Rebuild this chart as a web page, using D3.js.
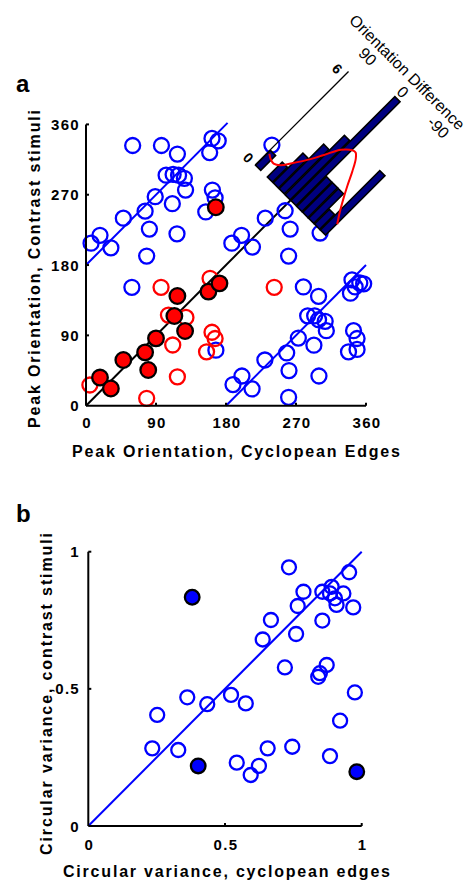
<!DOCTYPE html>
<html>
<head>
<meta charset="utf-8">
<script src="https://cdn.jsdelivr.net/npm/d3@7"></script>
<style>
  body { margin: 0; background: #fff; }
  svg { display: block; }
  text { font-family: "Liberation Sans", Arial, Helvetica, sans-serif; }
</style>
</head>
<body>
<svg id="chart" width="471" height="882"></svg>
<script>
// ---------- Panel a: peak orientation (deg) ----------
const orientTicks = [0, 90, 180, 270, 360];

// cells plotted as open blue circles (x = cyclopean edges, y = contrast stimuli)
const blueOpenA = [
  [60,333],[97,333],[117.5,322],[162,342],[170,339],[159,324],
  [103,295],[112,296],[119,295],[126.5,291],[128,276],
  [89,267.5],[111,258.5],[162.5,276],[166,266],[154,248],
  [48,240],[76,249],[81.5,226],[117,220],[18,218],[6.5,208],[32,202],[78,191.5],
  [187.5,208],[200,218],[214,203],[260.5,191.5],[230.5,240],[256,249.5],[262.5,226],[301,221],[239,333.5],
  [59,151.5],[167,71],
  [279.5,152],[299,140],[342,161],[352,157],[357,156],[346,152],[340,144],
  [285,115],[294,115],[299,110],[307.5,108],[309,96],[273,86.5],[293,77.5],
  [344,96],[348.5,86],[337.5,69],[348.5,72],[258,67.5],[230,58.5],[261,45],
  [299.5,38],[200.5,38],[189,27],[213.5,21.5],[260.5,10.7]
];
const redOpenA = [
  [5,26.5],[78,9.5],[96.5,151.5],[159.5,163],[106,116],[128.5,113],
  [111.5,77.7],[117.5,37],[162,94],[166,86],[155,69],[242,151.5]
];
const redFilledA = [
  [18,36],[32,22],[48,58.5],[76,68.3],[80,45.7],[90,86.2],
  [113.6,114.8],[127.4,95.6],[117.5,140.4],[157.4,146],[171.6,156.6],[166.9,254]
];

// orientation-difference histogram (bins of 15 deg, from +90 down to -90)
const diffBins = [82.5, 67.5, 52.5, 37.5, 22.5, 7.5, -7.5, -22.5, -37.5, -52.5, -67.5, -82.5];
const diffCounts = [1, 0, 1, 2, 3, 4, 7, 2, 2, 2, 1, 4];
const diffTicks = [90, 0, -90];
const countTicks = [0, 6];
// fitted density, in count units
const fitDiff = [86, 78, 68, 57, 45, 30, 15, 0, -15, -22, -30, -42, -54, -66, -78, -90];
const fitCount = [0.85, 0.72, 0.66, 0.84, 1.3, 1.92, 2.65, 3.4, 3.76, 3.8, 3.6, 3.05, 2.4, 1.8, 1.25, 0.76];

// ---------- Panel b: circular variance ----------
const cvTicks = [0, 0.5, 1];
const cvLabels = ["0", "0.5", "1"];
const cvOpen = [
  [0.734,0.943],[0.954,0.925],[0.787,0.854],[0.856,0.854],[0.890,0.872],[0.884,0.848],
  [0.933,0.848],[0.902,0.830],[0.908,0.806],[0.969,0.797],[0.766,0.802],[0.856,0.749],
  [0.668,0.751],[0.760,0.700],[0.638,0.680],[0.719,0.578],[0.872,0.587],[0.847,0.557],
  [0.841,0.544],[0.975,0.487],[0.362,0.469],[0.435,0.444],[0.522,0.478],[0.576,0.447],
  [0.252,0.405],[0.921,0.384],[0.234,0.283],[0.329,0.277],[0.656,0.283],[0.746,0.289],
  [0.543,0.231],[0.624,0.219],[0.594,0.186],[0.884,0.255]
];
const cvFilled = [[0.380,0.834],[0.402,0.219],[0.982,0.198]];

const BLUE = "#0000ff", RED = "#ff0000", NAVY = "#000080";

const svg = d3.select("#chart");

// ===== Panel a =====
const xA = d3.scaleLinear().domain([0, 360]).range([86, 366]);
const yA = d3.scaleLinear().domain([0, 360]).range([405.7, 124.4]);
const gA = svg.append("g");

// reference lines: identity and the two wrapped (+/-180) diagonals
const histAnchor = 263;
gA.append("line")
  .attr("x1", xA(0)).attr("y1", yA(0)).attr("x2", xA(histAnchor)).attr("y2", yA(histAnchor))
  .attr("stroke", "#000").attr("stroke-width", 2);
[[0, 180, 182, 362], [180, 0, 360, 180]].forEach(([a, b, c, d]) => {
  gA.append("line")
    .attr("x1", xA(a)).attr("y1", yA(b)).attr("x2", xA(c)).attr("y2", yA(d))
    .attr("stroke", BLUE).attr("stroke-width", 2);
});

gA.selectAll("circle.bo").data(blueOpenA).join("circle")
  .attr("cx", d => xA(d[0])).attr("cy", d => yA(d[1])).attr("r", 7.5)
  .attr("fill", "none").attr("stroke", BLUE).attr("stroke-width", 2.3);
gA.selectAll("circle.ro").data(redOpenA).join("circle")
  .attr("cx", d => xA(d[0])).attr("cy", d => yA(d[1])).attr("r", 7.5)
  .attr("fill", "none").attr("stroke", RED).attr("stroke-width", 2.3);
gA.selectAll("circle.rf").data(redFilledA).join("circle")
  .attr("cx", d => xA(d[0])).attr("cy", d => yA(d[1])).attr("r", 7.8)
  .attr("fill", RED).attr("stroke", "#000").attr("stroke-width", 2.3);

// axes (ticks point inward)
const axA = svg.append("g");
axA.append("line").attr("x1", xA(0)).attr("y1", yA(0)).attr("x2", xA(0)).attr("y2", yA(360))
  .attr("stroke", "#000").attr("stroke-width", 2);
axA.append("line").attr("x1", xA(0)).attr("y1", yA(0)).attr("x2", xA(360)).attr("y2", yA(0))
  .attr("stroke", "#000").attr("stroke-width", 2);
orientTicks.slice(1).forEach(t => {
  axA.append("line").attr("x1", xA(0)).attr("x2", xA(0) + 3).attr("y1", yA(t)).attr("y2", yA(t))
    .attr("stroke", "#000").attr("stroke-width", 2);
  axA.append("line").attr("x1", xA(t)).attr("x2", xA(t)).attr("y1", yA(0)).attr("y2", yA(0) - 3)
    .attr("stroke", "#000").attr("stroke-width", 2);
});
const tickFont = g => g.attr("font-size", 15).attr("font-weight", "bold").attr("letter-spacing", 1.3).attr("fill", "#000");
orientTicks.forEach(t => {
  axA.append("text").attr("x", 80).attr("y", yA(t) + 5.5).attr("text-anchor", "end").text(t).call(tickFont);
  axA.append("text").attr("x", xA(t) + 1).attr("y", yA(0) + 22.5).attr("text-anchor", "middle").text(t).call(tickFont);
});
const titleFont = g => g.attr("font-size", 16).attr("font-weight", "bold").attr("fill", "#000").attr("lengthAdjust", "spacing");
axA.append("text").attr("transform", "translate(40,269) rotate(-90)").attr("text-anchor", "middle")
  .attr("textLength", 318).text("Peak Orientation, Contrast stimuli").call(titleFont);
axA.append("text").attr("x", 236).attr("y", 457).attr("text-anchor", "middle")
  .attr("textLength", 328).text("Peak Orientation, Cyclopean Edges").call(titleFont);
svg.append("text").attr("x", 16).attr("y", 92).attr("font-size", 24).attr("font-weight", "bold").text("a");

// ===== Inset histogram, drawn along the identity diagonal =====
const cx = xA(histAnchor), cy = yA(histAnchor);
const hist = svg.append("g").attr("transform", `translate(${cx},${cy}) rotate(-45)`);
const cScale = d3.scaleLinear().domain([0, 6]).range([0, 126]);
const dScale = d3.scaleLinear().domain([90, -90]).range([-50, 50]);
const band = d3.scaleBand().domain(diffBins).range([-50, 50]).paddingInner(0.12).paddingOuter(0.06);

hist.append("line").attr("x1", 0).attr("x2", 132).attr("y1", -50).attr("y2", -50)
  .attr("stroke", "#000").attr("stroke-width", 1.3);
hist.selectAll("rect.bar").data(diffBins.map((b, i) => [b, diffCounts[i]]).filter(d => d[1] > 0)).join("rect")
  .attr("x", 0).attr("y", d => band(d[0])).attr("width", d => cScale(d[1])).attr("height", band.bandwidth())
  .attr("fill", NAVY).attr("stroke", "#000").attr("stroke-width", 1.6);
const fitLine = d3.line().x(d => cScale(d[1])).y(d => dScale(d[0])).curve(d3.curveCatmullRom);
hist.append("path").datum(fitDiff.map((v, i) => [v, fitCount[i]])).attr("d", fitLine)
  .attr("fill", "none").attr("stroke", RED).attr("stroke-width", 2);
countTicks.forEach(t => {
  hist.append("text").attr("transform", `translate(${cScale(t)},-60) rotate(90)`)
    .attr("text-anchor", "middle").attr("dy", "0.35em")
    .attr("font-size", 14).attr("font-weight", "bold").text(t);
});
diffTicks.forEach(t => {
  hist.append("text").attr("transform", `translate(156,${dScale(t) + 3}) rotate(90)`)
    .attr("text-anchor", "middle").attr("dy", "0.35em")
    .attr("font-size", 16).text(t);
});
hist.append("text").attr("transform", `translate(173,-8) rotate(90)`)
  .attr("text-anchor", "middle").attr("dy", "0.35em").attr("font-size", 16)
  .text("Orientation Difference");

// ===== Panel b =====
const xB = d3.scaleLinear().domain([0, 1]).range([88.3, 361.7]);
const yB = d3.scaleLinear().domain([0, 1]).range([826, 551.7]);
const gB = svg.append("g");
gB.append("line").attr("x1", xB(0)).attr("y1", yB(0)).attr("x2", xB(1)).attr("y2", yB(1))
  .attr("stroke", BLUE).attr("stroke-width", 2);
gB.selectAll("circle.o").data(cvOpen).join("circle")
  .attr("cx", d => xB(d[0])).attr("cy", d => yB(d[1])).attr("r", 7)
  .attr("fill", "none").attr("stroke", BLUE).attr("stroke-width", 2.3);
gB.selectAll("circle.f").data(cvFilled).join("circle")
  .attr("cx", d => xB(d[0])).attr("cy", d => yB(d[1])).attr("r", 7.3)
  .attr("fill", BLUE).attr("stroke", "#000").attr("stroke-width", 2.3);

const axB = svg.append("g");
axB.append("line").attr("x1", xB(0)).attr("y1", yB(0)).attr("x2", xB(0)).attr("y2", yB(1))
  .attr("stroke", "#000").attr("stroke-width", 2);
axB.append("line").attr("x1", xB(0)).attr("y1", yB(0)).attr("x2", xB(1)).attr("y2", yB(0))
  .attr("stroke", "#000").attr("stroke-width", 2);
cvTicks.slice(1).forEach(t => {
  axB.append("line").attr("x1", xB(0)).attr("x2", xB(0) + 3).attr("y1", yB(t)).attr("y2", yB(t))
    .attr("stroke", "#000").attr("stroke-width", 2);
  axB.append("line").attr("x1", xB(t)).attr("x2", xB(t)).attr("y1", yB(0)).attr("y2", yB(0) - 3)
    .attr("stroke", "#000").attr("stroke-width", 2);
});
cvTicks.forEach((t, i) => {
  axB.append("text").attr("x", 80).attr("y", yB(t) + 5.5).attr("text-anchor", "end").text(cvLabels[i]).call(tickFont);
  axB.append("text").attr("x", xB(t) + 1).attr("y", yB(0) + 24).attr("text-anchor", "middle").text(cvLabels[i]).call(tickFont);
});
axB.append("text").attr("transform", "translate(52,694) rotate(-90)").attr("text-anchor", "middle")
  .attr("textLength", 322).text("Circular variance, contrast stimuli").call(titleFont);
axB.append("text").attr("x", 226.5).attr("y", 877).attr("text-anchor", "middle")
  .attr("textLength", 327).text("Circular variance, cyclopean edges").call(titleFont);
svg.append("text").attr("x", 16).attr("y", 522).attr("font-size", 24).attr("font-weight", "bold").text("b");
</script>
</body>
</html>
